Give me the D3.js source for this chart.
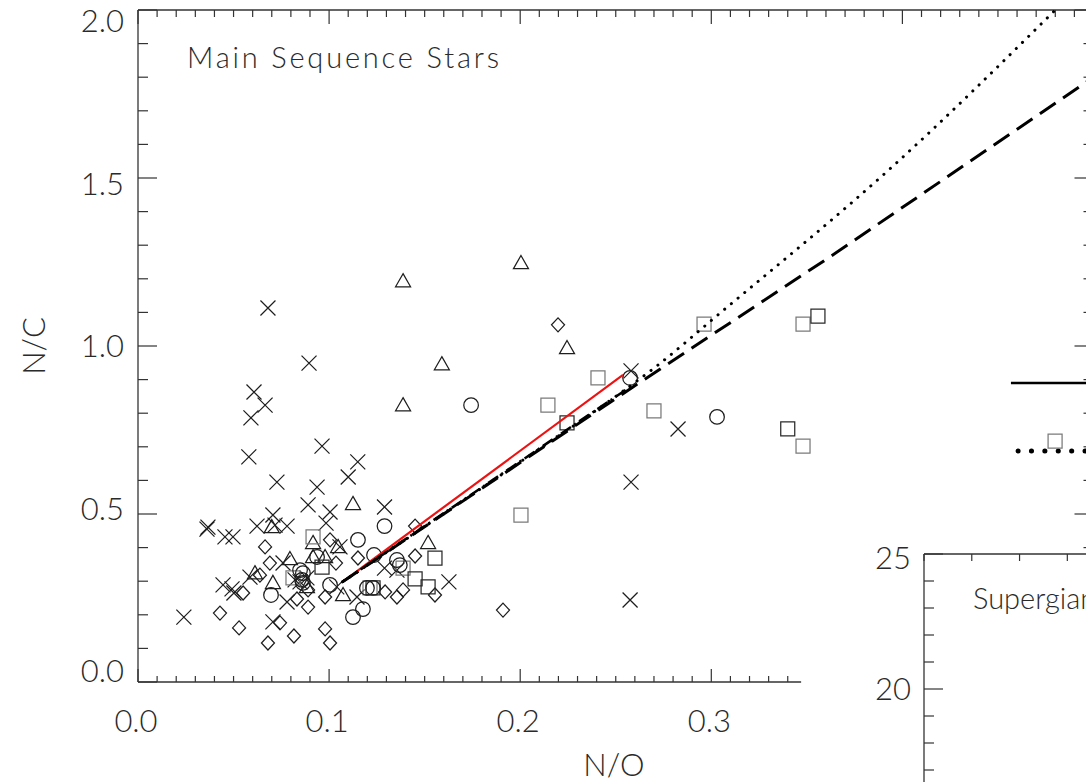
<!DOCTYPE html>
<html>
<head>
<meta charset="utf-8">
<script src="https://cdn.jsdelivr.net/npm/d3@7"></script>
<style>
  html, body { margin: 0; padding: 0; background: #ffffff; }
  svg { display: block; }
  text { font-family: "Lato", "DejaVu Sans", sans-serif; font-weight: 300; fill: #2a2a2a; }
</style>
</head>
<body>
<svg id="chart" width="1086" height="782"></svg>
<script>
// ---- Data: N/O versus N/C for main sequence stars ----
const crosses = [
  [0.068,1.113],[0.0895,0.949],[0.0607,0.863],[0.0665,0.824],[0.0591,0.786],[0.058,0.670],
  [0.0963,0.702],[0.0727,0.595],[0.0937,0.580],[0.110,0.610],[0.115,0.655],
  [0.089,0.527],[0.1005,0.506],[0.0984,0.473],[0.129,0.521],
  [0.0366,0.461],[0.0361,0.455],[0.0455,0.432],[0.0497,0.432],[0.0623,0.464],
  [0.0706,0.497],[0.0717,0.467],[0.078,0.464],
  [0.024,0.193],[0.0445,0.289],[0.0492,0.277],[0.0502,0.265],[0.0706,0.179],
  [0.0586,0.312],[0.0759,0.354],[0.0822,0.304],[0.0848,0.298],[0.078,0.238],[0.0884,0.310],
  [0.1057,0.402],[0.104,0.283],[0.1146,0.253],[0.129,0.339],[0.1355,0.333],[0.1627,0.298],
  [0.258,0.926],[0.2826,0.753],[0.258,0.595],[0.2575,0.244]
];
const diamonds = [
  [0.2198,1.063],[0.191,0.214],
  [0.0665,0.402],[0.069,0.354],[0.0638,0.318],[0.055,0.265],[0.0832,0.247],[0.089,0.223],
  [0.0429,0.205],[0.0529,0.161],[0.0743,0.176],[0.068,0.116],[0.0816,0.137],[0.1005,0.423],
  [0.145,0.464],[0.145,0.375],[0.1151,0.369],[0.1036,0.354],[0.1554,0.259],[0.0979,0.253],
  [0.1293,0.268],[0.1355,0.253],[0.1387,0.274],[0.089,0.274],[0.0979,0.158],[0.1005,0.116]
];
const triangles = [
  [0.1387,1.193],[0.2004,1.247],[0.2245,0.994],[0.159,0.946],[0.1387,0.824],[0.1125,0.530],
  [0.1518,0.414],[0.070,0.461],[0.0795,0.366],[0.0916,0.414],[0.0916,0.372],[0.0612,0.324],
  [0.0706,0.295],[0.1047,0.402],[0.0979,0.372],[0.1073,0.259],[0.0884,0.283]
];
const circles = [
  [0.1743,0.824],[0.2575,0.905],[0.303,0.789],[0.129,0.464],[0.1151,0.423],[0.1235,0.378],
  [0.0937,0.372],[0.0863,0.324],[0.0863,0.295],[0.1005,0.289],[0.1355,0.363],[0.137,0.348],
  [0.1198,0.280],[0.123,0.280],[0.1177,0.217],[0.1125,0.193],[0.0696,0.259],[0.0848,0.333],
  [0.0858,0.304]
];
const squaresGray = [
  [0.2407,0.905],[0.2145,0.824],[0.2004,0.497],[0.270,0.807],[0.2962,1.065],[0.348,1.065],
  [0.348,0.702],[0.0916,0.432],[0.0811,0.310],[0.1387,0.339],[0.1214,0.280]
];
const squaresBlack = [
  [0.2245,0.771],[0.3558,1.089],[0.340,0.753],[0.0963,0.342],[0.1554,0.369],[0.145,0.307],
  [0.1518,0.283],[0.123,0.280]
];

// Model tracks
const redTrack     = [[0.107,0.298],[0.2538,0.914]];
const dashedTrack  = [[0.107,0.298],[0.259,0.878],[0.362,1.265],[0.5,1.80]];
const dottedTrack  = [[0.107,0.298],[0.2,0.655],[0.25,0.85],[0.27,0.934],[0.3046,1.098],[0.3946,1.533],[0.48,2.0]];
const dashDotTrack = [[0.107,0.298],[0.258,0.88]];

// Legend samples at the right edge
const legendSolid  = [[0.4568,0.89],[0.5,0.89]];
const legendDotted = [[0.4605,0.6875],[0.5,0.6875]];
const legendSquare = [[0.4799,0.717]];

// Axis ticks
const xLabels = ["0.0", "0.1", "0.2", "0.3"];
const yLabels = ["0.0", "0.5", "1.0", "1.5", "2.0"];
const xBottomEnd = 0.347;

// Supergiants panel
const sgYLabels = ["20", "25"];

// ---- Drawing ----
const svg = d3.select("#chart");
const ink = "#1e1e1e";
const axisInk = "#333";

const x = d3.scaleLinear().domain([0, 0.5]).range([138, 1093.5]);
const y = d3.scaleLinear().domain([0, 2]).range([682, 10]);

const fmtStep = (a, b, s) => d3.range(Math.round(a / s), Math.round(b / s) + 1).map(i => +(i * s).toFixed(4));

// frame lines
const frame = svg.append("g").attr("stroke", axisInk).attr("stroke-width", 1.3).attr("fill", "none");
frame.append("line").attr("x1", x(0)).attr("x2", x(0.5)).attr("y1", y(2)).attr("y2", y(2));
frame.append("line").attr("x1", x(0)).attr("x2", x(0)).attr("y1", y(2)).attr("y2", y(0));
frame.append("line").attr("x1", x(0.5)).attr("x2", x(0.5)).attr("y1", y(2)).attr("y2", y(0));
frame.append("line").attr("x1", x(0)).attr("x2", x(xBottomEnd)).attr("y1", y(0)).attr("y2", y(0));

const ticks = svg.append("g").attr("stroke", axisInk).attr("stroke-width", 1.2);
// bottom ticks
fmtStep(0, 0.34, 0.01).forEach(v => {
  const major = Math.abs(v * 10 - Math.round(v * 10)) < 1e-6;
  ticks.append("line").attr("x1", x(v)).attr("x2", x(v)).attr("y1", y(0)).attr("y2", y(0) - (major ? 13 : 6));
});
// top ticks
fmtStep(0, 0.5, 0.01).forEach(v => {
  const major = Math.abs(v * 10 - Math.round(v * 10)) < 1e-6;
  ticks.append("line").attr("x1", x(v)).attr("x2", x(v)).attr("y1", y(2)).attr("y2", y(2) + (major ? 14 : 7));
});
// left and right ticks
fmtStep(0, 2, 0.1).forEach(v => {
  const major = Math.abs(v * 2 - Math.round(v * 2)) < 1e-6;
  const len = major ? 19 : 10;
  ticks.append("line").attr("x1", x(0)).attr("x2", x(0) + len).attr("y1", y(v)).attr("y2", y(v));
  ticks.append("line").attr("x1", x(0.5)).attr("x2", x(0.5) - len).attr("y1", y(v)).attr("y2", y(v));
});

// tick labels
const fs = 31;
svg.append("g").selectAll("text").data(xLabels).join("text")
  .attr("x", (d) => x(+d) - 2).attr("y", 732)
  .attr("text-anchor", "middle").attr("font-size", fs).text(d => d);
// labels on the value axis are pulled slightly inward at both ends
const yLabelPos = d3.scaleLinear().domain([0, 2]).range([671, 21]);
svg.append("g").selectAll("text").data(yLabels).join("text")
  .attr("x", 124).attr("y", d => yLabelPos(+d)).attr("dy", "0.36em")
  .attr("text-anchor", "end").attr("font-size", fs).text(d => d);

svg.append("text").attr("x", 614).attr("y", 776).attr("text-anchor", "middle")
  .attr("font-size", fs).text("N/O");
svg.append("text").attr("transform", "translate(45,346) rotate(-90)").attr("text-anchor", "middle")
  .attr("font-size", fs).text("N/C");
svg.append("text").attr("x", 187).attr("y", 68).attr("font-size", 29)
  .attr("textLength", 312).attr("lengthAdjust", "spacing").text("Main Sequence Stars");

// ---- Symbols ----
const shapes = {
  cross: s => `M${-s},${-s}L${s},${s}M${-s},${s}L${s},${-s}`,
  diamond: s => `M0,${-s}L${s * 0.93},0L0,${s}L${-s * 0.93},0Z`,
  triangle: s => `M0,${-s}L${s},${s * 0.75}L${-s},${s * 0.75}Z`,
  square: s => `M${-s},${-s}H${s}V${s}H${-s}Z`
};
const marks = svg.append("g").attr("fill", "none").attr("stroke-width", 1.25);
function plot(data, path, color, parent) {
  (parent || marks).append("g").attr("fill", "none").attr("stroke-width", 1.25)
    .selectAll("path").data(data).join("path")
    .attr("transform", d => `translate(${x(d[0])},${y(d[1])})`)
    .attr("d", path).attr("stroke", color);
}
plot(crosses, shapes.cross(7.5), ink);
plot(diamonds, shapes.diamond(7), ink);
plot(triangles, shapes.triangle(7.5), ink);
plot(squaresGray, shapes.square(7), "#7a7a7a");
plot(squaresBlack, shapes.square(7), "#2a2a2a");
marks.append("g").selectAll("circle").data(circles).join("circle")
  .attr("cx", d => x(d[0])).attr("cy", d => y(d[1])).attr("r", 7.3).attr("stroke", ink);

// ---- Tracks ----
svg.append("clipPath").attr("id", "plotArea").append("rect")
  .attr("x", x(0)).attr("y", y(2)).attr("width", x(0.5) - x(0)).attr("height", y(0) - y(2));
const line = d3.line().x(d => x(d[0])).y(d => y(d[1]));
const smooth = d3.line().x(d => x(d[0])).y(d => y(d[1])).curve(d3.curveMonotoneX);
const tracks = svg.append("g").attr("clip-path", "url(#plotArea)").attr("fill", "none");
tracks.append("path").attr("d", line(redTrack)).attr("stroke", "#ee1111").attr("stroke-width", 2.2);
tracks.append("path").attr("d", smooth(dottedTrack)).attr("stroke", "#000")
  .attr("stroke-width", 3).attr("stroke-dasharray", "0.1,8.6").attr("stroke-linecap", "round");
tracks.append("path").attr("d", line(dashedTrack)).attr("stroke", "#000")
  .attr("stroke-width", 3).attr("stroke-dasharray", "19,9");
tracks.append("path").attr("d", line(dashDotTrack)).attr("stroke", "#000")
  .attr("stroke-width", 2.6).attr("stroke-dasharray", "12,4,2,4");

// legend samples
tracks.append("path").attr("d", line(legendSolid)).attr("stroke", "#000").attr("stroke-width", 2.6);
tracks.append("path").attr("d", line(legendDotted)).attr("stroke", "#000")
  .attr("stroke-width", 5).attr("stroke-dasharray", "0.1,13.3").attr("stroke-linecap", "round");
plot(legendSquare, shapes.square(7), "#7a7a7a", svg);

// ---- Supergiants panel ----
const sx = d3.scaleLinear().domain([0, 0.35]).range([924, 924 + 0.35 * 1911]);
const sy = d3.scaleLinear().domain([15, 25]).range([824, 554]);
const sg = svg.append("g");
sg.append("rect").attr("x", sx(0)).attr("y", sy(25)).attr("width", 200).attr("height", 260).attr("fill", "#fff");
sg.append("line").attr("x1", sx(0)).attr("x2", 1100).attr("y1", sy(25)).attr("y2", sy(25))
  .attr("stroke", axisInk).attr("stroke-width", 1.3);
sg.append("line").attr("x1", sx(0)).attr("x2", sx(0)).attr("y1", sy(25)).attr("y2", 790)
  .attr("stroke", axisInk).attr("stroke-width", 1.3);
fmtStep(15, 25, 1).forEach(v => {
  const len = v % 5 === 0 ? 19 : 10;
  sg.append("line").attr("x1", sx(0)).attr("x2", sx(0) + len).attr("y1", sy(v)).attr("y2", sy(v))
    .attr("stroke", axisInk).attr("stroke-width", 1.2);
});
fmtStep(0, 0.1, 0.025).forEach(v => {
  sg.append("line").attr("x1", sx(v)).attr("x2", sx(v)).attr("y1", sy(25)).attr("y2", sy(25) + 7)
    .attr("stroke", axisInk).attr("stroke-width", 1.2);
});
sg.selectAll("text.sgl").data(sgYLabels).join("text").attr("class", "sgl")
  .attr("x", 911).attr("y", d => sy(+d) + (+d === 25 ? 4 : 0)).attr("dy", "0.36em")
  .attr("text-anchor", "end").attr("font-size", fs).text(d => d);
sg.append("text").attr("x", 973).attr("y", 609).attr("font-size", 29).text("Supergiants");
</script>
</body>
</html>
